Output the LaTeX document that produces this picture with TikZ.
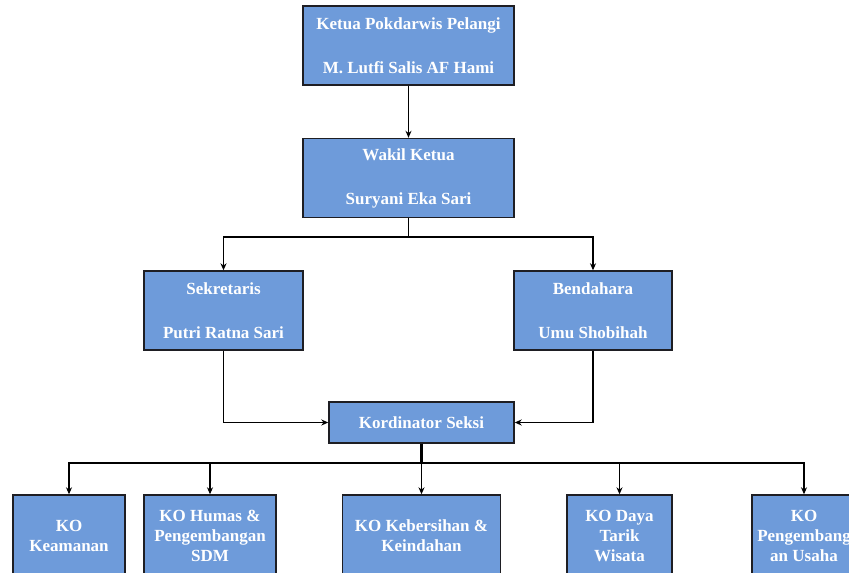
\documentclass[tikz,border=0pt]{standalone}
\usepackage{fontspec}
\setmainfont{Liberation Serif}
\usetikzlibrary{arrows.meta}
\definecolor{boxblue}{RGB}{110,155,218}
\definecolor{boxline}{RGB}{30,30,35}
\tikzset{
  orgbox/.style={draw=boxline, line width=1.4pt, fill=boxblue, text=white,
    inner sep=0pt, align=center, font=\bfseries\fontsize{17}{44}\selectfont},
  lowbox/.style={orgbox, minimum height=81pt, font=\bfseries\fontsize{17}{20}\selectfont},
  conn/.style={line width=1.3pt, draw=black, -{Stealth[length=7pt,width=6pt]}},
  trunk/.style={line width=2.4pt, draw=black}
}
\begin{document}
\begin{tikzpicture}[x=1pt,y=-1pt]
\useasboundingbox (0,0) rectangle (849,573);
\clip (0,0) rectangle (849,573);
\fill[white] (0,0) rectangle (849,573);

\node[orgbox, minimum width=211pt, minimum height=79pt] (ketua) at (408.5,45.5)
  {Ketua Pokdarwis Pelangi\\M. Lutfi Salis AF Hami};
\node[orgbox, minimum width=211pt, minimum height=79pt] (wakil) at (408.5,178)
  {Wakil Ketua\\Suryani Eka Sari};
\node[orgbox, minimum width=159pt, minimum height=79pt] (sek) at (223.5,310.5)
  {Sekretaris\\Putri Ratna Sari};
\node[orgbox, minimum width=158pt, minimum height=79pt] (bend) at (593,310.5)
  {Bendahara\\Umu Shobihah};
\node[orgbox, minimum width=185pt, minimum height=41pt] (kord) at (421.5,422.5)
  {Kordinator Seksi};

\node[lowbox, minimum width=112pt] (kam) at (69,535.5) {KO\\Keamanan};
\node[lowbox, minimum width=132pt] (hum) at (210,535.5) {KO Humas \&\\Pengembangan\\SDM};
\node[lowbox, minimum width=158pt] (keb) at (421.5,535.5) {KO Kebersihan \&\\Keindahan};
\node[lowbox, minimum width=105pt] (daya) at (619.5,535.5) {KO Daya\\Tarik\\Wisata};
\node[lowbox, minimum width=104pt] (peng) at (804,535.5) {KO\\Pengembang\\an Usaha};

\coordinate (j1) at (408.5,237);
\coordinate (j2) at (421.5,463);

\draw[conn] (ketua.south) -- (wakil.north);
\draw[line width=1.3pt] (wakil.south) -- (j1);
\draw[conn] (j1) -| (sek.north);
\draw[conn] (j1) -| (bend.north);
\draw[conn] (sek.south) |- (kord.west);
\draw[conn] (bend.south) |- (kord.east);
\draw[trunk] (kord.south) -- (j2);
\draw[line width=1.8pt] (kam.north |- j2) -- (peng.north |- j2);
\draw[conn] (j2) -| (kam.north);
\draw[conn] (j2) -| (hum.north);
\draw[conn] (j2) -- (keb.north);
\draw[conn] (j2) -| (daya.north);
\draw[conn] (j2) -| (peng.north);
\end{tikzpicture}
\end{document}
